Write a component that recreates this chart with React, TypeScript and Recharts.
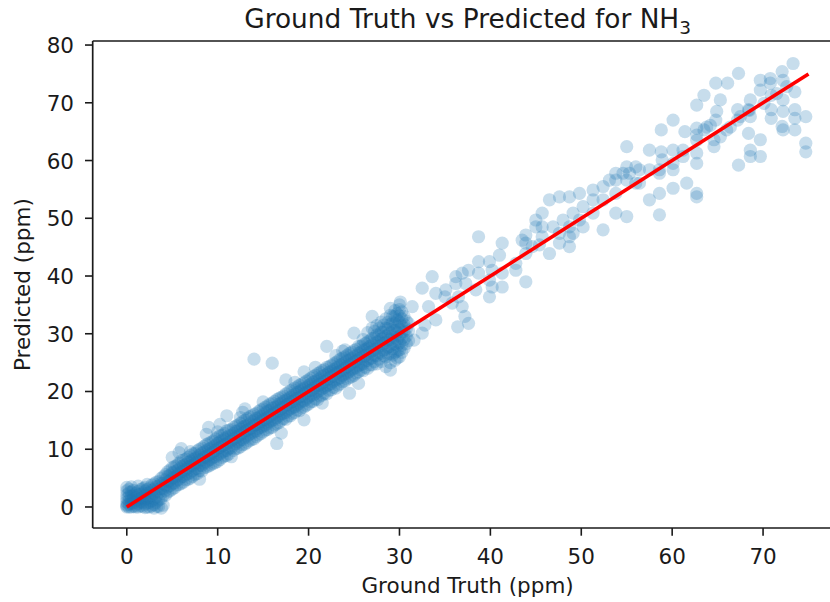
import React from "react";
import {
  ScatterChart,
  Scatter,
  XAxis,
  YAxis,
  ReferenceLine,
} from "recharts";

// dense part of the cloud (ground truth 0..31 ppm), predictions read per column
const bandTruth = [
  0, 0.5, 1, 1.5, 2, 2.5, 3, 3.5, 4, 4.5, 5, 5.5, 6, 6.5, 7, 7.5, 8, 8.5, 9, 9.5,
  10, 10.5, 11, 11.5, 12, 12.5, 13, 13.5, 14, 14.5, 15, 15.5, 16, 16.5, 17, 17.5,
  18, 18.5, 19, 19.5, 20, 20.5, 21, 21.5, 22, 22.5, 23, 23.5, 24, 24.5, 25, 25.5,
  26, 26.5, 27, 27.5, 28, 28.5, 29, 29.5, 30, 30.5, 31,
];

const bandPred: number[][] = [
  [0, 0.2, 0.4, 0.9, 1.5, 2.1, 2.8, 3.4],
  [0, 0.6, 1.2, 1.9, 2.6, 3.5],
  [0, 0.3, 1.0, 1.6, 2.4],
  [0.2, 0.9, 1.5, 2.2, 3.0],
  [-0.1, 0.5, 1.3, 2.0, 2.8, 3.4],
  [0, 0.8, 1.7, 2.5, 3.3],
  [-0.2, 0.4, 1.4, 2.3, 3.1, 4.0],
  [0.1, 1.2, 2.4, 3.6, 4.4],
  [0.3, 2.0, 3.2, 4.1, 5.2],
  [2.6, 3.5, 4.4, 5.3, 6.1],
  [3.1, 4.0, 5.0, 5.9, 6.8, 8.6],
  [3.8, 4.6, 5.4, 6.3, 7.2],
  [4.1, 5.2, 6.1, 7.0, 8.0, 10.1],
  [4.7, 5.6, 6.5, 7.4, 8.3],
  [5.0, 6.0, 7.1, 7.9, 8.9, 9.6],
  [5.6, 6.6, 7.5, 8.4, 9.3],
  [4.8, 6.3, 7.2, 8.1, 9.0, 10.0],
  [6.8, 7.6, 8.6, 9.5, 10.5],
  [7.1, 8.1, 9.0, 10.0, 11.0, 13.8],
  [7.5, 8.6, 9.5, 10.4, 11.4],
  [7.9, 9.0, 10.1, 11.0, 12.1, 13.0],
  [8.6, 9.5, 10.6, 11.5, 12.4],
  [8.9, 9.8, 11.0, 12.0, 13.2, 15.8],
  [8.7, 10.2, 11.4, 12.4, 13.4],
  [10.1, 11.0, 12.0, 13.1, 14.0],
  [10.4, 11.6, 12.5, 13.5, 14.5, 15.5],
  [10.9, 12.0, 13.1, 14.0, 15.0, 17.0],
  [11.5, 12.6, 13.5, 14.4, 15.6],
  [11.8, 13.0, 14.1, 15.0, 16.0, 25.6],
  [12.5, 13.6, 14.4, 15.5, 16.5],
  [13.0, 14.0, 15.1, 16.0, 17.0, 18.2],
  [13.4, 14.5, 15.5, 16.6, 17.5],
  [13.8, 15.0, 16.0, 17.1, 18.0, 24.9],
  [11.0, 14.4, 15.5, 16.5, 17.4, 18.6],
  [12.8, 15.0, 16.1, 17.0, 18.0, 19.0],
  [15.2, 16.4, 17.5, 18.5, 19.6, 22.0],
  [15.8, 17.0, 18.1, 19.0, 20.1],
  [16.4, 17.4, 18.5, 19.5, 20.6, 21.6],
  [16.7, 18.0, 19.0, 20.0, 21.1],
  [15.1, 17.3, 18.4, 19.6, 20.5, 21.5, 23.4],
  [17.8, 19.0, 20.1, 21.0, 22.0],
  [18.3, 19.4, 20.5, 21.6, 22.6],
  [18.6, 20.0, 21.0, 22.0, 23.1],
  [18.0, 19.4, 20.5, 21.5, 22.6, 23.6],
  [19.6, 21.0, 22.0, 23.0, 24.2, 27.8],
  [20.3, 21.4, 22.6, 23.5, 24.5],
  [20.6, 22.0, 23.1, 24.0, 25.0, 26.2],
  [21.3, 22.4, 23.5, 24.6, 25.6],
  [21.8, 23.0, 24.0, 25.0, 26.0, 27.2],
  [19.7, 22.4, 23.5, 24.6, 25.5, 26.6],
  [22.8, 24.0, 25.1, 26.0, 27.1, 30.1],
  [21.4, 23.4, 24.5, 25.6, 26.6, 27.8],
  [23.6, 24.8, 26.0, 27.1, 28.1, 29.0],
  [24.0, 25.4, 26.5, 27.5, 28.6, 30.2],
  [24.6, 25.8, 27.0, 28.1, 29.2, 31.0, 33.0],
  [24.8, 26.2, 27.4, 28.6, 29.8, 31.4],
  [25.2, 26.6, 28.0, 29.1, 30.3, 32.0],
  [24.3, 26.0, 27.3, 28.5, 29.6, 31.0, 32.6],
  [23.7, 25.0, 26.5, 27.8, 29.0, 30.2, 31.6, 33.2, 34.4],
  [25.4, 26.8, 28.2, 29.4, 30.6, 31.8, 33.0, 34.0],
  [26.0, 27.2, 28.4, 29.6, 30.8, 32.0, 33.1, 34.2, 35.0],
  [27.5, 29.0, 30.4, 31.6, 33.0],
  [28.8, 30.5, 31.8],
];

// in-between columns of the dense part
const bandTruth2 = [
  0.25, 0.75, 1.25, 1.75, 2.25, 2.75, 3.25, 3.75, 4.25, 4.75, 5.25, 5.75, 6.25, 6.75,
  7.25, 7.75, 8.25, 8.75, 9.25, 9.75, 10.25, 10.75, 11.25, 11.75, 12.25, 12.75, 13.25,
  13.75, 14.25, 14.75, 15.25, 15.75, 16.25, 16.75, 17.25, 17.75, 18.25, 18.75, 19.25,
  19.75, 20.25, 20.75, 21.25, 21.75, 22.25, 22.75, 23.25, 23.75, 24.25, 24.75, 25.25,
  25.75, 26.25, 26.75, 27.25, 27.75, 28.25, 28.75, 29.25, 29.75, 30.25, 30.75,
];

const bandPred2: number[][] = [
  [0, 0.5, 1.1, 1.8, 2.5, 3.1],
  [0.1, 0.7, 1.4, 2.0, 2.9],
  [0, 0.6, 1.3, 2.1, 2.7, 3.6],
  [0.1, 0.8, 1.6, 2.4, 3.2],
  [0, 0.7, 1.5, 2.3, 3.0, 3.9],
  [0.2, 1.1, 2.0, 2.9, 3.8],
  [0.8, 1.8, 2.7, 3.5, 4.3],
  [1.4, 2.3, 3.2, 4.1, 4.9],
  [2.0, 2.9, 3.8, 4.7, 5.6],
  [2.8, 3.7, 4.6, 5.5, 6.4],
  [3.3, 4.2, 5.1, 6.1, 7.0],
  [3.9, 4.8, 5.8, 6.6, 7.6, 9.4],
  [4.3, 5.3, 6.2, 7.2, 8.1],
  [4.8, 5.8, 6.8, 7.7, 8.6],
  [5.3, 6.3, 7.2, 8.2, 9.2],
  [5.8, 6.7, 7.7, 8.6, 9.7],
  [6.2, 7.2, 8.2, 9.3, 10.2],
  [6.9, 7.8, 8.7, 9.7, 10.8, 12.6],
  [7.3, 8.3, 9.2, 10.2, 11.2],
  [7.7, 8.7, 9.8, 10.7, 11.8],
  [8.2, 9.2, 10.3, 11.3, 12.3, 14.3],
  [8.8, 9.7, 10.8, 11.8, 12.7],
  [9.2, 10.2, 11.2, 12.3, 13.3],
  [9.8, 10.7, 11.8, 12.7, 13.8],
  [10.2, 11.3, 12.3, 13.2, 14.2],
  [10.8, 11.7, 12.8, 13.8, 14.8, 16.4],
  [11.2, 12.3, 13.3, 14.2, 15.3],
  [11.7, 12.8, 13.7, 14.8, 15.8],
  [12.2, 13.2, 14.3, 15.3, 16.2],
  [12.7, 13.8, 14.8, 15.7, 16.8],
  [13.3, 14.2, 15.2, 16.3, 17.3],
  [13.7, 14.8, 15.8, 16.7, 17.8],
  [14.2, 15.2, 16.3, 17.2, 18.3],
  [14.6, 15.8, 16.7, 17.8, 18.8],
  [15.3, 16.2, 17.3, 18.3, 19.2],
  [15.7, 16.8, 17.8, 18.7, 19.8],
  [16.2, 17.2, 18.3, 19.3, 20.3],
  [16.8, 17.7, 18.8, 19.8, 20.8],
  [17.2, 18.3, 19.2, 20.3, 21.3],
  [17.6, 18.7, 19.8, 20.7, 21.8],
  [18.2, 19.3, 20.2, 21.3, 22.3],
  [18.7, 19.7, 20.8, 21.8, 22.8, 24.2],
  [19.2, 20.2, 21.3, 22.2, 23.3],
  [19.7, 20.7, 21.7, 22.8, 23.8],
  [20.2, 21.2, 22.3, 23.3, 24.3],
  [20.7, 21.8, 22.7, 23.8, 24.8],
  [21.1, 22.2, 23.3, 24.2, 25.3],
  [21.7, 22.8, 23.7, 24.8, 25.8, 27.0],
  [22.2, 23.2, 24.3, 25.3, 26.3],
  [22.6, 23.8, 24.8, 25.7, 26.8],
  [23.2, 24.2, 25.3, 26.2, 27.3],
  [23.7, 24.7, 25.8, 26.8, 27.8],
  [24.2, 25.3, 26.2, 27.3, 28.3],
  [24.6, 25.7, 26.8, 27.8, 28.8],
  [25.2, 26.3, 27.2, 28.3, 29.3, 30.4],
  [25.6, 26.8, 27.8, 28.7, 29.8, 31.0],
  [26.2, 27.2, 28.3, 29.3, 30.3, 31.5],
  [26.5, 27.7, 28.8, 29.8, 30.9, 32.0],
  [26.3, 27.4, 28.6, 29.7, 30.8, 31.9, 33.0],
  [25.8, 27.0, 28.0, 29.1, 30.2, 31.3, 32.4, 33.5],
  [26.8, 28.0, 29.2, 30.3, 31.4, 32.6, 33.8],
  [28.3, 29.6, 30.9, 32.2],
];

// sparse part of the cloud: [ground truth, predicted]
const outerPoints: [number, number][] = [
  [3.3, 0.1], [3.8, -0.2],
  [30.1, 35.5], [31.4, 34.7], [31.6, 28.9], [32.5, 30.1], [32.8, 31.5], [32.5, 37.9],
  [33.2, 34.7], [33.6, 39.9], [34.0, 37.0], [34.0, 32.4], [35.1, 37.6], [35.0, 36.4],
  [35.8, 35.3], [36.5, 36.4], [36.2, 39.9], [36.2, 38.7], [36.9, 34.7], [36.4, 31.2],
  [37.6, 31.8], [37.2, 33.0], [37.3, 38.7], [37.6, 41.0], [36.9, 40.5], [38.4, 37.6],
  [38.7, 40.5], [38.7, 42.5], [38.7, 46.8], [39.9, 42.5], [39.9, 39.3], [39.9, 36.4],
  [40.2, 38.1], [40.2, 41.0], [41.3, 38.1], [41.3, 40.5], [41.0, 43.6], [41.3, 45.7],
  [42.8, 42.2], [42.8, 41.0], [43.9, 39.0], [43.9, 43.9], [44.6, 45.1], [43.5, 46.2],
  [43.9, 47.1], [43.9, 45.7], [45.4, 45.4], [45.0, 48.5], [45.7, 46.8], [45.7, 48.5],
  [46.5, 43.9], [45.0, 49.7], [45.7, 50.9], [46.5, 53.2], [46.9, 48.5], [47.6, 45.7],
  [47.6, 47.4], [47.6, 53.7], [48.0, 49.7], [48.7, 46.8], [48.7, 48.5], [48.7, 53.7],
  [48.7, 45.1], [49.1, 50.9], [49.1, 47.4], [49.8, 54.3], [49.8, 49.7], [50.2, 52.0],
  [50.2, 48.5], [51.3, 54.9], [51.3, 53.2], [51.3, 50.9], [52.4, 55.5], [52.4, 53.2],
  [52.4, 48.0], [53.1, 56.6], [53.8, 57.8], [53.8, 56.6], [53.8, 54.3], [53.8, 50.9],
  [54.6, 57.8], [55.0, 58.9], [55.0, 56.6], [55.0, 62.4], [55.0, 50.3], [55.3, 57.8],
  [56.0, 58.9], [56.0, 56.1], [56.4, 58.4], [56.4, 56.1], [57.5, 61.8], [57.5, 58.4],
  [57.5, 53.2], [58.6, 57.8], [58.6, 58.4], [58.6, 54.3], [58.6, 50.6], [58.8, 61.5],
  [58.9, 60.1], [58.8, 65.3], [60.1, 61.8], [60.1, 58.4], [60.1, 59.5], [60.1, 55.2],
  [60.1, 67.0], [61.2, 61.8], [61.2, 60.7], [61.4, 65.0], [61.6, 56.1], [62.7, 69.6],
  [62.7, 65.6], [62.7, 64.4], [62.7, 63.5], [62.7, 61.3], [62.7, 59.5], [62.7, 54.3],
  [62.7, 53.7], [63.5, 71.3], [63.5, 65.3], [63.8, 65.8], [64.2, 66.1], [64.6, 63.6],
  [64.6, 62.4], [64.8, 73.4], [64.8, 67.0], [64.9, 68.5], [65.3, 70.5], [65.3, 64.1],
  [66.0, 65.3], [66.1, 73.4], [66.4, 65.8], [67.2, 67.0], [67.2, 68.8], [67.5, 67.6],
  [67.3, 75.1], [67.3, 59.2], [68.4, 68.8], [68.5, 68.7], [68.4, 64.7], [68.6, 70.5],
  [68.6, 67.6], [68.6, 61.8], [68.6, 60.7], [69.7, 73.9], [69.7, 72.2], [69.7, 63.6],
  [69.7, 60.7], [70.1, 69.9], [70.8, 74.2], [70.8, 73.4], [70.9, 71.3], [70.9, 68.8],
  [70.9, 67.3], [71.5, 71.6], [72.1, 75.4], [72.1, 65.9], [72.2, 73.9], [72.2, 70.5],
  [72.2, 68.5], [72.2, 65.3], [72.6, 72.8], [73.3, 76.8], [73.5, 71.9], [73.5, 68.8],
  [73.5, 67.3], [73.5, 65.3], [74.7, 67.6], [74.7, 63.0], [74.7, 61.5],
];

// y = x reference
const fitLine = [
  { truth: 0, pred: 0 },
  { truth: 75, pred: 75 },
];

const xTicks = [0, 10, 20, 30, 40, 50, 60, 70];
const yTicks = [0, 10, 20, 30, 40, 50, 60, 70, 80];

const points = [
  ...bandTruth.flatMap((t, i) => bandPred[i].map((p) => ({ truth: t, pred: p }))),
  ...bandTruth2.flatMap((t, i) => bandPred2[i].map((p) => ({ truth: t, pred: p }))),
  ...outerPoints.map(([t, p]) => ({ truth: t, pred: p })),
];

const FONT = "'DejaVu Sans', Verdana, sans-serif";
const INK = "#1a1a1a";

function Dot(props: any) {
  return <circle cx={props.cx} cy={props.cy} r={6.6} fill="#1f77b4" fillOpacity={0.25} />;
}

function XTick(props: any) {
  const { x, y, payload } = props;
  return (
    <text x={x} y={y + 28} textAnchor="middle" fontFamily={FONT} fontSize={21.5} fill={INK}>
      {payload.value}
    </text>
  );
}

function YTick(props: any) {
  const { x, y, payload } = props;
  return (
    <text x={x - 11} y={y + 8} textAnchor="end" fontFamily={FONT} fontSize={21.5} fill={INK}>
      {payload.value}
    </text>
  );
}

export default function App() {
  return (
    <div
      style={{
        position: "absolute",
        left: 0,
        top: 0,
        width: 830,
        height: 602,
        overflow: "hidden",
        background: "#fff",
      }}
    >
      <ScatterChart width={850} height={602} margin={{ top: 41, right: 7.4, bottom: 34, left: 0 }}>
        <XAxis
          dataKey="truth"
          type="number"
          domain={[-3.75, 78.75]}
          ticks={xTicks}
          allowDataOverflow
          height={40}
          tickSize={7.7}
          tickMargin={0}
          tick={<XTick />}
          axisLine={{ stroke: INK, strokeWidth: 1.7 }}
          tickLine={{ stroke: INK, strokeWidth: 1.6 }}
        />
        <YAxis
          dataKey="pred"
          type="number"
          domain={[-3.64, 80.7]}
          ticks={yTicks}
          allowDataOverflow
          width={92.7}
          tickSize={7.7}
          tickMargin={0}
          tick={<YTick />}
          axisLine={{ stroke: INK, strokeWidth: 1.7 }}
          tickLine={{ stroke: INK, strokeWidth: 1.6 }}
        />
        <ReferenceLine y={80.7} stroke={INK} strokeWidth={1.7} />
        <Scatter data={points} shape={<Dot />} isAnimationActive={false} />
        <Scatter
          data={fitLine}
          line={{ stroke: "#ff0000", strokeWidth: 3.6 }}
          shape={() => <g />}
          isAnimationActive={false}
        />
      </ScatterChart>
      <svg
        width={830}
        height={602}
        style={{ position: "absolute", left: 0, top: 0, pointerEvents: "none" }}
      >
        <text x={467.6} y={28} textAnchor="middle" fontFamily={FONT} fontSize={26.4} fill={INK}>
          Ground Truth vs Predicted for NH
          <tspan dy={6} fontSize={18.5}>3</tspan>
        </text>
        <text x={467.6} y={593} textAnchor="middle" fontFamily={FONT} fontSize={21.5} fill={INK}>
          Ground Truth (ppm)
        </text>
        <text
          transform="translate(30, 284.6) rotate(-90)"
          textAnchor="middle"
          fontFamily={FONT}
          fontSize={21.5}
          fill={INK}
        >
          Predicted (ppm)
        </text>
      </svg>
    </div>
  );
}
